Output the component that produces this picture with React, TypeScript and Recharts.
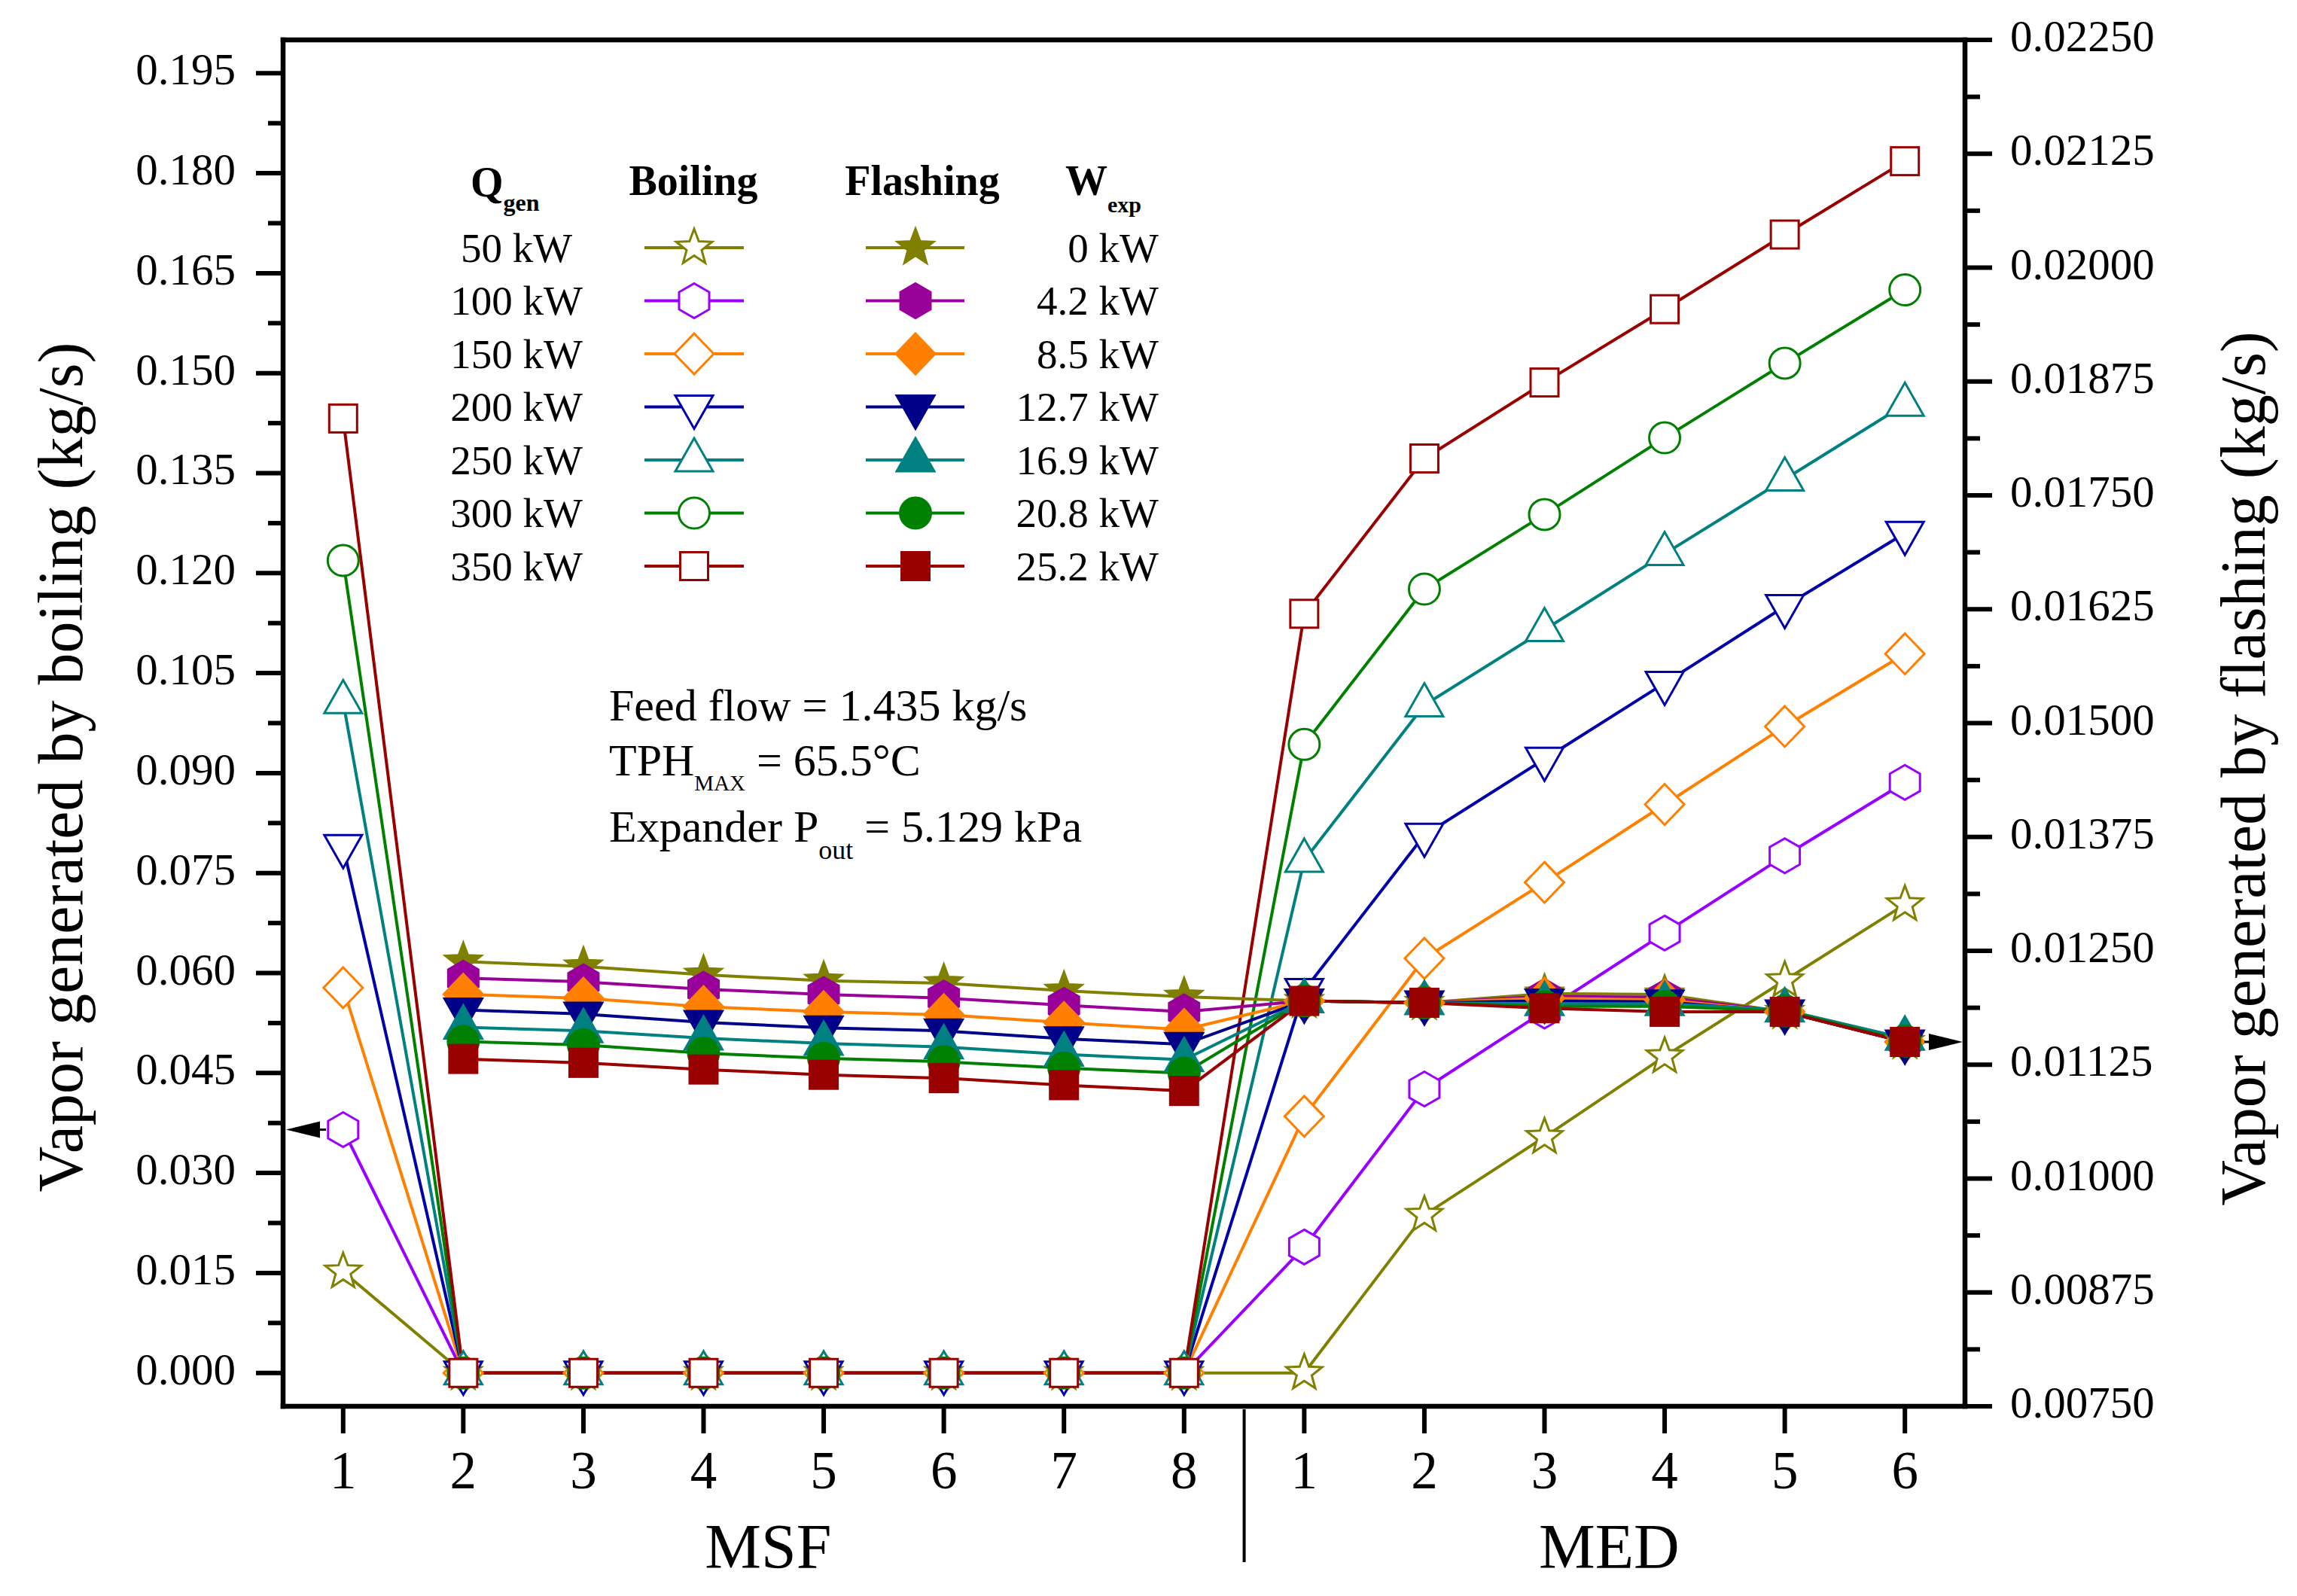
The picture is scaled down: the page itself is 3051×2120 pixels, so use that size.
import React from 'react';
import { ComposedChart, Line, XAxis, YAxis, ReferenceDot } from 'recharts';

const CHART_W = 3051;
const CHART_H = 2120;
const SERIF = '"Liberation Serif", "Times New Roman", Times, serif';

// ---------- categories & labels ----------
const stageLabels = ['1', '2', '3', '4', '5', '6', '7', '8', '1', '2', '3', '4', '5', '6'];
const sectionLabels = ['MSF', 'MED'];
const qgenLabels = ['50 kW', '100 kW', '150 kW', '200 kW', '250 kW', '300 kW', '350 kW'];
const wexpLabels = ['0 kW', '4.2 kW', '8.5 kW', '12.7 kW', '16.9 kW', '20.8 kW', '25.2 kW'];
const leftTickLabels = ['0.000', '0.015', '0.030', '0.045', '0.060', '0.075', '0.090', '0.105', '0.120', '0.135', '0.150', '0.165', '0.180', '0.195'];
const rightTickLabels = ['0.00750', '0.00875', '0.01000', '0.01125', '0.01250', '0.01375', '0.01500', '0.01625', '0.01750', '0.01875', '0.02000', '0.02125', '0.02250'];

// ---------- boiling (left axis, kg/s), MSF 1-8 then MED 1-6 ----------
const boil50 = [0.0152, 0, 0, 0, 0, 0, 0, 0, 0, 0.0237, 0.0354, 0.0475, 0.0589, 0.0703];
const boil100 = [0.0365, 0, 0, 0, 0, 0, 0, 0, 0.0189, 0.0426, 0.0543, 0.066, 0.0776, 0.0886];
const boil150 = [0.0578, 0, 0, 0, 0, 0, 0, 0, 0.0385, 0.0622, 0.0736, 0.0853, 0.097, 0.1079];
const boil200 = [0.079, 0, 0, 0, 0, 0, 0, 0, 0.0574, 0.0807, 0.0921, 0.1035, 0.115, 0.126];
const boil250 = [0.1007, 0, 0, 0, 0, 0, 0, 0, 0.0769, 0.1002, 0.1115, 0.1229, 0.1341, 0.1453];
const boil300 = [0.1219, 0, 0, 0, 0, 0, 0, 0, 0.0943, 0.1176, 0.1288, 0.1403, 0.1515, 0.1625];
const boil350 = [0.1432, 0, 0, 0, 0, 0, 0, 0, 0.1139, 0.1372, 0.1486, 0.1596, 0.1708, 0.1818];

// ---------- flashing (right axis, kg/s), MSF 2-8 then MED 1-6 ----------
const flash0 = [0.012382, 0.012329, 0.012238, 0.012172, 0.012145, 0.012062, 0.011996, 0.01195, 0.01193, 0.01203, 0.01202, 0.01183, 0.0115];
const flash42 = [0.0122, 0.01216, 0.012079, 0.012021, 0.011982, 0.011902, 0.011831, 0.01195, 0.01193, 0.012, 0.01199, 0.01183, 0.0115];
const flash85 = [0.012023, 0.011979, 0.011887, 0.011831, 0.011798, 0.011712, 0.011635, 0.01195, 0.01193, 0.01198, 0.01196, 0.01183, 0.0115];
const flash127 = [0.011851, 0.011806, 0.011715, 0.011654, 0.011621, 0.011536, 0.011473, 0.01195, 0.01193, 0.01195, 0.01194, 0.01183, 0.0115];
const flash169 = [0.011662, 0.011621, 0.011541, 0.011484, 0.011445, 0.011363, 0.011303, 0.01195, 0.01193, 0.01192, 0.01192, 0.01185, 0.01154];
const flash208 = [0.011504, 0.011466, 0.011376, 0.011321, 0.011283, 0.011212, 0.011158, 0.01195, 0.01193, 0.01189, 0.01189, 0.01184, 0.01151];
const flash252 = [0.011313, 0.01127, 0.011197, 0.011139, 0.011102, 0.011025, 0.010962, 0.01195, 0.01193, 0.01187, 0.01183, 0.01183, 0.0115];

const boilingSeries = [boil50, boil100, boil150, boil200, boil250, boil300, boil350];
const flashingSeries = [flash0, flash42, flash85, flash127, flash169, flash208, flash252];
const boilingColors = ['#808000', '#9A00FF', '#FF8000', '#0000A8', '#008080', '#008000', '#990000'];
const flashingColors = ['#808000', '#990099', '#FF8000', '#000088', '#008080', '#008000', '#990000'];
const markerShapes = ['star', 'hex', 'diamond', 'tdown', 'tup', 'circle', 'square'];

const toPoints = (vals: number[], start: number) => vals.map((y, i) => ({ x: start + i, y }));

const withMinor = (labels: string[]) => {
  const major = labels.map((l) => parseFloat(l));
  const out: number[] = [];
  major.forEach((v, i) => {
    out.push(v);
    if (i < major.length - 1) out.push((v + major[i + 1]) / 2);
  });
  return out;
};
const leftTicks = withMinor(leftTickLabels);
const rightTicks = withMinor(rightTickLabels);
const stageTicks = stageLabels.map((_, i) => i + 1);
const bottomTicks = [...stageTicks, 4.5, 8.5, 11.5];

const findLabel = (labels: string[], v: number) => labels.find((l) => Math.abs(parseFloat(l) - v) < 1e-9);

// ---------- markers ----------
const starPoints = (R: number, ratio: number) => {
  const pts: string[] = [];
  for (let k = 0; k < 10; k++) {
    const r = k % 2 === 0 ? R : R * ratio;
    const a = -Math.PI / 2 + (k * Math.PI) / 5;
    pts.push(`${(r * Math.cos(a)).toFixed(2)},${(r * Math.sin(a)).toFixed(2)}`);
  }
  return pts.join(' ');
};
const STAR = starPoints(25, 0.42);

function Marker({ shape, cx, cy, color, filled }: any) {
  if (cx == null || cy == null) return null;
  const fill = filled ? color : '#ffffff';
  const common = { fill, stroke: color, strokeWidth: 3, strokeLinejoin: 'miter' as const };
  let el: any = null;
  switch (shape) {
    case 'star':
      el = <polygon points={STAR} {...common} />;
      break;
    case 'hex':
      el = <polygon points="0,-23 20,-11.5 20,11.5 0,23 -20,11.5 -20,-11.5" {...common} />;
      break;
    case 'diamond':
      el = <polygon points="0,-27 26,0 0,27 -26,0" {...common} />;
      break;
    case 'tdown':
      el = <polygon points="-25,-15 25,-15 0,29" {...common} />;
      break;
    case 'tup':
      el = <polygon points="0,-29 25,15 -25,15" {...common} />;
      break;
    case 'circle':
      el = <circle cx={0} cy={0} r={20.5} {...common} />;
      break;
    default:
      el = <rect x={-18.5} y={-18.5} width={37} height={37} {...common} />;
  }
  return <g transform={`translate(${cx},${cy})`}>{el}</g>;
}

const makeDot = (shape: string, color: string, filled: boolean, tag: string) => (p: any) => (
  <Marker key={`${tag}-${p.index}`} cx={p.cx} cy={p.cy} shape={shape} color={color} filled={filled} />
);

// ---------- axis ticks ----------
const LeftTick = (props: any) => {
  const { x, y, payload } = props;
  const label = findLabel(leftTickLabels, payload.value);
  return (
    <g>
      <line x1={x} x2={x - (label ? 36 : 20)} y1={y} y2={y} stroke="#000" strokeWidth={6} />
      {label && (
        <text x={x - 63} y={y + 15} textAnchor="end" fontFamily={SERIF} fontSize={59} fill="#000">
          {label}
        </text>
      )}
    </g>
  );
};

const RightTick = (props: any) => {
  const { x, y, payload } = props;
  const label = findLabel(rightTickLabels, payload.value);
  return (
    <g>
      <line x1={x} x2={x + (label ? 36 : 20)} y1={y} y2={y} stroke="#000" strokeWidth={6} />
      {label && (
        <text x={x + 60} y={y + 15} textAnchor="start" fontFamily={SERIF} fontSize={59} fill="#000">
          {label}
        </text>
      )}
    </g>
  );
};

const BottomTick = (props: any) => {
  const { x, y, payload } = props;
  const v = payload.value;
  if (Number.isInteger(v)) {
    return (
      <g>
        <line x1={x} x2={x} y1={y} y2={y + 36} stroke="#000" strokeWidth={6} />
        <text x={x} y={y + 109} textAnchor="middle" fontFamily={SERIF} fontSize={71} fill="#000">
          {stageLabels[v - 1]}
        </text>
      </g>
    );
  }
  if (Math.abs(v - 8.5) < 1e-9) {
    return <line x1={x} x2={x} y1={y + 4} y2={y + 207} stroke="#000" strokeWidth={4} />;
  }
  return (
    <text x={x + 6} y={y + 215} textAnchor="middle" fontFamily={SERIF} fontSize={84} fill="#000">
      {v < 8.5 ? sectionLabels[0] : sectionLabels[1]}
    </text>
  );
};

const TopTick = (props: any) => {
  const { x, y } = props;
  return <line x1={x} x2={x} y1={y} y2={y + 36} stroke="#000" strokeWidth={6} />;
};

const LeftArrow = (props: any) => {
  const { cx, cy } = props;
  if (cx == null || cy == null) return null;
  return (
    <g>
      <line x1={cx + 46} x2={cx + 57} y1={cy} y2={cy} stroke="#000" strokeWidth={3} />
      <polygon points={`${cx + 4},${cy} ${cx + 49},${cy - 11} ${cx + 49},${cy + 11}`} fill="#000" />
    </g>
  );
};

const RightArrow = (props: any) => {
  const { cx, cy } = props;
  if (cx == null || cy == null) return null;
  return (
    <g>
      <line x1={cx - 54} x2={cx - 44} y1={cy} y2={cy} stroke="#000" strokeWidth={3} />
      <polygon points={`${cx - 3},${cy} ${cx - 48},${cy - 11} ${cx - 48},${cy + 11}`} fill="#000" />
    </g>
  );
};

const axisLineStyle = { stroke: '#000', strokeWidth: 6.5, strokeLinecap: 'square' as const };

// ---------- legend & annotation overlay ----------
function Overlay() {
  const rowY0 = 329;
  const rowStep = 70.5;
  return (
    <svg
      width={CHART_W}
      height={CHART_H}
      style={{ position: 'absolute', left: 0, top: 0, pointerEvents: 'none' }}
      fontFamily={SERIF}
    >
      {/* axis titles */}
      <text
        transform="translate(80,1019) rotate(-90)"
        textAnchor="middle"
        dominantBaseline="central"
        fontSize={84}
        fill="#000"
      >
        Vapor generated by boiling (kg/s)
      </text>
      <text
        transform="translate(2979,1021) rotate(-90)"
        textAnchor="middle"
        dominantBaseline="central"
        fontSize={84}
        fill="#000"
      >
        Vapor generated by flashing (kg/s)
      </text>

      {/* legend headers */}
      <text x={625} y={261} fontWeight="bold" fontSize={56} fill="#000">
        Q<tspan fontSize={32} dy={19}>gen</tspan>
      </text>
      <text x={921} y={259} textAnchor="middle" fontWeight="bold" fontSize={56} fill="#000">
        Boiling
      </text>
      <text x={1225} y={259} textAnchor="middle" fontWeight="bold" fontSize={56} fill="#000">
        Flashing
      </text>
      <text x={1415} y={259} fontWeight="bold" fontSize={56} fill="#000">
        W<tspan fontSize={30} dy={23}>exp</tspan>
      </text>

      {/* legend rows */}
      {qgenLabels.map((q, i) => {
        const cy = rowY0 + i * rowStep;
        return (
          <g key={q}>
            <text x={686} y={cy + 18.5} textAnchor="middle" fontSize={55} fill="#000">
              {q}
            </text>
            <line x1={856} x2={988} y1={cy} y2={cy} stroke={boilingColors[i]} strokeWidth={4} />
            <Marker shape={markerShapes[i]} cx={922} cy={cy} color={boilingColors[i]} filled={false} />
            <line x1={1150} x2={1281} y1={cy} y2={cy} stroke={flashingColors[i]} strokeWidth={4} />
            <Marker shape={markerShapes[i]} cx={1216} cy={cy} color={flashingColors[i]} filled={true} />
            <text x={1539} y={cy + 18.5} textAnchor="end" fontSize={55} fill="#000">
              {wexpLabels[i]}
            </text>
          </g>
        );
      })}

      {/* conditions annotation */}
      <text x={809} y={957} fontSize={60} fill="#000">
        Feed flow = 1.435 kg/s
      </text>
      <text x={809} y={1030} fontSize={60} fill="#000">
        TPH<tspan fontSize={29} dy={20}>MAX</tspan>
        <tspan dy={-20}> = 65.5°C</tspan>
      </text>
      <text x={809} y={1118} fontSize={60} fill="#000">
        Expander P<tspan fontSize={36} dy={23}>out</tspan>
        <tspan dy={-23}> = 5.129 kPa</tspan>
      </text>
    </svg>
  );
}

export default function App() {
  return (
    <div style={{ position: 'absolute', left: 0, top: 0, width: CHART_W, height: CHART_H, background: '#fff' }}>
      <ComposedChart width={CHART_W} height={CHART_H} margin={{ top: 0, right: 0, bottom: 0, left: 0 }}>
        <XAxis
          xAxisId="b"
          dataKey="x"
          type="number"
          domain={[0.5, 14.5]}
          ticks={bottomTicks}
          interval={0}
          orientation="bottom"
          height={252}
          tickSize={0}
          tickMargin={0}
          tickLine={false}
          axisLine={axisLineStyle}
          tick={<BottomTick />}
        />
        <XAxis
          xAxisId="t"
          dataKey="x"
          type="number"
          domain={[0.5, 14.5]}
          ticks={stageTicks}
          interval={0}
          orientation="top"
          height={53}
          tickSize={0}
          tickMargin={0}
          tickLine={false}
          axisLine={axisLineStyle}
          tick={<TopTick />}
        />
        <YAxis
          yAxisId="left"
          orientation="left"
          type="number"
          domain={[-0.005, 0.2]}
          ticks={leftTicks}
          interval={0}
          width={376}
          tickSize={0}
          tickMargin={0}
          tickLine={false}
          axisLine={axisLineStyle}
          tick={<LeftTick />}
        />
        <YAxis
          yAxisId="right"
          orientation="right"
          type="number"
          domain={[0.0075, 0.0225]}
          ticks={rightTicks}
          interval={0}
          width={441}
          tickSize={0}
          tickMargin={0}
          tickLine={false}
          axisLine={axisLineStyle}
          tick={<RightTick />}
        />

        {boilingSeries.map((vals, i) => (
          <Line
            key={`boil-${i}`}
            data={toPoints(vals, 1)}
            dataKey="y"
            xAxisId="b"
            yAxisId="left"
            type="linear"
            stroke={boilingColors[i]}
            strokeWidth={4}
            isAnimationActive={false}
            activeDot={false}
            dot={makeDot(markerShapes[i], boilingColors[i], false, `b${i}`)}
          />
        ))}
        {flashingSeries.map((vals, i) => (
          <Line
            key={`flash-${i}`}
            data={toPoints(vals, 2)}
            dataKey="y"
            xAxisId="b"
            yAxisId="right"
            type="linear"
            stroke={flashingColors[i]}
            strokeWidth={4}
            isAnimationActive={false}
            activeDot={false}
            dot={makeDot(markerShapes[i], flashingColors[i], true, `f${i}`)}
          />
        ))}

        <ReferenceDot
          xAxisId="b"
          yAxisId="left"
          x={0.5}
          y={boil100[0]}
          ifOverflow="visible"
          shape={(p: any) => <LeftArrow {...p} />}
        />
        <ReferenceDot
          xAxisId="b"
          yAxisId="right"
          x={14.5}
          y={flash252[flash252.length - 1]}
          ifOverflow="visible"
          shape={(p: any) => <RightArrow {...p} />}
        />
      </ComposedChart>
      <Overlay />
    </div>
  );
}
